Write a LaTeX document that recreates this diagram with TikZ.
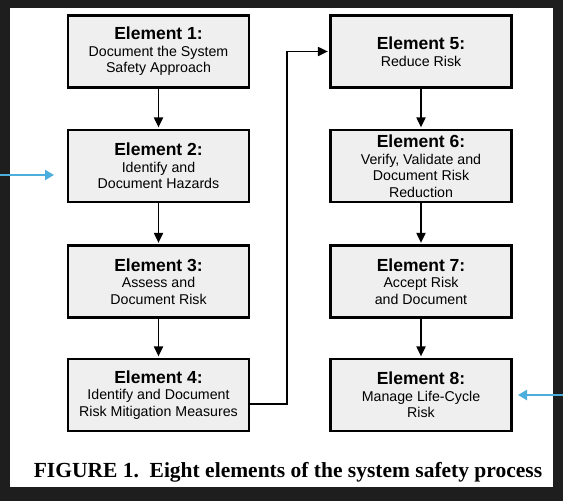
\documentclass[tikz,border=0pt]{standalone}
\usepackage{fontspec}
\setmainfont{Liberation Serif}
\setsansfont{Liberation Sans}
\usetikzlibrary{arrows.meta}
\definecolor{bgdark}{HTML}{1E1E1E}
\definecolor{boxgray}{HTML}{EFEFEF}
\definecolor{skyblue}{HTML}{4BAEDC}
\begin{document}
\begin{tikzpicture}[x=1pt,y=-1pt,
  elbox/.style={draw=black, line width=2.8pt, fill=boxgray, minimum width=181pt, minimum height=72pt,
    inner sep=0pt, align=center, font=\sffamily\fontsize{14.2}{16.5}\selectfont},
  conn/.style={draw=black, line width=1.9pt, -{Triangle[length=10pt,width=9pt]}, shorten >=1.2pt},
  bluearrow/.style={draw=skyblue, line width=2.4pt, -{Triangle[length=9pt,width=10pt]}}]
\fill[bgdark] (0,0) rectangle (563,501);
\useasboundingbox (0,0) rectangle (563,501);
\fill[white] (10,8) rectangle (553,487);
\newcommand{\eltitle}[1]{{\fontsize{17.5}{19}\selectfont\bfseries #1}}
\node[elbox] (e1) at (158.5,51.5) {\eltitle{Element 1:}\\Document the System\\Safety Approach};
\node[elbox] (e2) at (158.5,166) {\eltitle{Element 2:}\\Identify and\\Document Hazards};
\node[elbox] (e3) at (158.5,281.5) {\eltitle{Element 3:}\\Assess and\\Document Risk};
\node[elbox] (e4) at (158.5,395) {\eltitle{Element 4:}\\Identify and Document\\Risk Mitigation Measures};
\node[elbox] (e5) at (421,51.5) {\eltitle{Element 5:}\\Reduce Risk};
\node[elbox] (e6) at (421,166) {\eltitle{Element 6:}\\Verify, Validate and\\Document Risk\\Reduction};
\node[elbox] (e7) at (421,281.5) {\eltitle{Element 7:}\\Accept Risk\\and Document};
\node[elbox] (e8) at (421,395) {\eltitle{Element 8:}\\Manage Life-Cycle\\Risk};
\draw[conn] (e1.south) -- (e2.north);
\draw[conn] (e2.south) -- (e3.north);
\draw[conn] (e3.south) -- (e4.north);
\draw[conn] (e5.south) -- (e6.north);
\draw[conn] (e6.south) -- (e7.north);
\draw[conn] (e7.south) -- (e8.north);
\coordinate (c4) at ([yshift=-9pt]e4.east);
\coordinate (bend) at (287,0);
\draw[conn] (c4) -- (c4 -| bend) |- (e5.west);
\coordinate (inL) at (0,175);
\coordinate (tipL) at (54,175);
\coordinate (inR) at (563,395);
\coordinate (tipR) at (518,395);
\draw[bluearrow] (inL) -- (tipL);
\draw[bluearrow] (inR) -- (tipR);
\node[anchor=base, inner sep=0pt, font=\rmfamily\bfseries\fontsize{21.5}{25}\selectfont] (cap) at (288,477)
  {FIGURE 1.\ \ Eight elements of the system safety process};
\end{tikzpicture}
\end{document}
